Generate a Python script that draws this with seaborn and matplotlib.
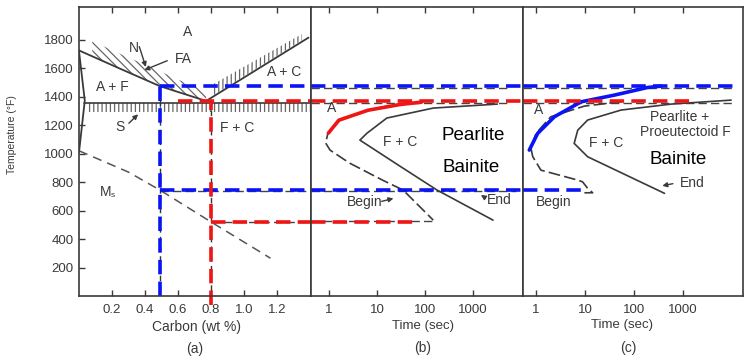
import numpy as np
import pandas as pd
import matplotlib
matplotlib.use("Agg")
import matplotlib.pyplot as plt
import seaborn as sns

sns.set_theme(style="white")
plt.rcParams['font.family'] = ['Liberation Sans', 'DejaVu Sans']
plt.rcParams['hatch.linewidth'] = 0.9
plt.rcParams['hatch.color'] = '#555555'

# ---------------- data ----------------
temp_ticks = [200, 400, 600, 800, 1000, 1200, 1400, 1600, 1800]
carbon_ticks = [0.2, 0.4, 0.6, 0.8, 1.0, 1.2]
carbon_tick_labels = ["0.2", "0.4", "0.6", "0.8", "1.0", "1.2"]
time_ticks = [1, 10, 100, 1000]
time_tick_labels = ["1", "10", "100", "1000"]

# (a) Fe-C phase diagram
a3_c = [0.0, 0.25, 0.49, 0.77]
a3_t = [1725, 1596, 1474, 1370]
acm_c = [0.77, 1.39]
acm_t = [1370, 1815]
alpha_c = [0.0, 0.035, 0.0]
alpha_t = [1720, 1372, 1010]
eutectoid_c = [0.03, 1.40]
eutectoid_t = [1357, 1357]
ms_c = [0.0, 0.3, 0.49, 0.8, 1.16]
ms_t = [1020, 870, 744, 520, 265]
hatch_n_c = [0.08, 0.25, 0.45, 0.6, 0.77]
hatch_n_low = [1684, 1596, 1495, 1430, 1372]
hatch_n_high = [1790, 1700, 1600, 1520, 1440]
hatch_ac_c = [0.80, 1.35]
hatch_ac_low = [1400, 1795]
hatch_ac_high = [1480, 1840]
hatch_s_c = [0.05, 1.40]
hatch_s_low = [1292, 1292]
hatch_s_high = [1355, 1355]

# (b) TTT, eutectoid steel
b_begin_s = [80, 20, 6.5, 1.7, 0.95, 0.85, 1.05, 2.7, 13, 35, 148]
b_begin_t = [1362, 1340, 1305, 1235, 1144, 1075, 1025, 933, 814, 744, 533]
b_red_s = [0.97, 1.6, 6.5, 30, 85]
b_red_t = [1144, 1235, 1305, 1345, 1362]
b_end_s = [3200, 148, 16, 6.2, 4.4, 30, 178, 2600]
b_end_t = [1348, 1320, 1250, 1144, 1095, 912, 744, 533]

# (c) TTT, hypoeutectoid steel
c_begin_s = [54, 9.7, 2.0, 1.0, 0.79, 0.86, 1.26, 7.1, 8.9, 11.3, 14.3, 9.7]
c_begin_t = [1364, 1334, 1259, 1142, 1037, 978, 884, 814, 802, 756, 725, 725]
c_blue_s = [0.73, 1.08, 2.37, 8.3, 39.5, 190, 355]
c_blue_t = [1025, 1142, 1259, 1364, 1411, 1465, 1474]
c_end_s = [9500, 570, 54, 11.3, 7.1, 6.0, 11.3, 417]
c_end_t = [1376, 1348, 1306, 1236, 1165, 1072, 978, 721]

# reference (construction) lines
blue_hi_T = 1474
blue_lo_T = 744
red_hi_T = 1368
red_lo_T = 520
blue_c = 0.49
red_c = 0.80
red_hi_start_c = 0.60
red_lo_end_s = 70
red_hi_end_s = 1850
blue_lo_end_s = 9.5
blue_hi_end_s = 13000

BLUE = '#0a14f5'
RED = '#f01414'
INK = '#3a3a3a'

# ---------------- figure ----------------
fig = plt.figure(figsize=(7.45, 3.6), dpi=100)
H = 360.0
W = 745.0
bot = 1 - 296 / H
hgt = 289 / H
ax_a = fig.add_axes([79 / W, bot, 232 / W, hgt])
ax_b = fig.add_axes([311 / W, bot, 212 / W, hgt])
ax_c = fig.add_axes([523 / W, bot, 220 / W, hgt])

for ax in (ax_a, ax_b, ax_c):
    ax.set_ylim(0, 2030)
    ax.set_facecolor('white')
    for s in ax.spines.values():
        s.set_color(INK)
        s.set_linewidth(1.2)
    ax.tick_params(direction='in', length=4, width=1, color=INK,
                   labelsize=9.5, labelcolor=INK)
    ax.grid(False)

ax_a.set_xlim(0, 1.405)
ax_b.set_xscale('log')
ax_b.set_xlim(10 ** -0.375, 10 ** 4.04)
ax_c.set_xscale('log')
ax_c.set_xlim(10 ** -0.265, 10 ** 4.22)

# ticks
ax_a.set_yticks(temp_ticks)
ax_a.set_xticks(carbon_ticks)
ax_a.set_xticklabels(carbon_tick_labels)
ax_a.tick_params(axis='x', top=True, bottom=True, pad=6)
ax_a.tick_params(axis='y', left=True, pad=4)
for ax in (ax_b, ax_c):
    ax.set_yticks([])
    ax.set_xticks(time_ticks)
    ax.set_xticklabels(time_tick_labels)
    ax.xaxis.set_minor_locator(matplotlib.ticker.NullLocator())
    ax.tick_params(axis='x', top=True, bottom=True, pad=6)

# ---------- panel (a) ----------
ax_a.fill_between(hatch_n_c, hatch_n_low, hatch_n_high, facecolor='none',
                  edgecolor='#666666', hatch='\\\\\\\\', linewidth=0)
ax_a.fill_between(hatch_ac_c, hatch_ac_low, hatch_ac_high, facecolor='none',
                  edgecolor='#666666', hatch='||||', linewidth=0)
ax_a.fill_between(hatch_s_c, hatch_s_low, hatch_s_high, facecolor='none',
                  edgecolor='#666666', hatch='||||', linewidth=0)

sns.lineplot(x=a3_c, y=a3_t, ax=ax_a, sort=False, estimator=None, color=INK, lw=1.3)
sns.lineplot(x=acm_c, y=acm_t, ax=ax_a, sort=False, estimator=None, color=INK, lw=1.3)
sns.lineplot(x=alpha_c, y=alpha_t, ax=ax_a, sort=False, estimator=None, color=INK, lw=1.3)
sns.lineplot(x=eutectoid_c, y=eutectoid_t, ax=ax_a, sort=False, estimator=None, color=INK, lw=1.2)
ms = sns.lineplot(x=ms_c, y=ms_t, ax=ax_a, sort=False, estimator=None, color='#555555', lw=1.1)
ax_a.lines[-1].set_dashes((6, 4))

# original black dashed construction lines (a)
ax_a.vlines([blue_c, red_c], 0, [blue_hi_T, red_hi_T], colors='#333333', lw=1.0,
            linestyles=(3, (4, 3)))
ax_a.hlines([blue_lo_T - 8, red_lo_T], [blue_c, red_c], 1.405, colors='#444444',
            lw=1.0, linestyles=(0, (6, 3)))

# coloured construction lines (a)
ax_a.hlines(blue_hi_T, blue_c, 1.405, colors=BLUE, lw=2.6, linestyles=(0, (4, 2)))
ax_a.hlines(blue_lo_T, blue_c, 1.405, colors=BLUE, lw=2.6, linestyles=(0, (4, 2)))
ax_a.vlines(blue_c, 0, blue_hi_T, colors=BLUE, lw=2.6, linestyles=(0, (4, 2)))
ax_a.hlines(red_hi_T, red_hi_start_c, 1.405, colors=RED, lw=2.6, linestyles=(0, (4, 2)))
ax_a.hlines(red_lo_T, red_c, 1.405, colors=RED, lw=2.6, linestyles=(0, (4, 2)))
ax_a.vlines(red_c, -60, red_hi_T, colors=RED, lw=2.6, linestyles=(0, (4, 2)),
            clip_on=False)

lab = dict(color=INK, fontsize=10, ha='center', va='center')
ax_a.text(0.66, 1853, "A", **lab)
ax_a.text(0.33, 1745, "N", **lab)
ax_a.text(0.63, 1668, "FA", **lab)
ax_a.text(0.20, 1467, "A + F", **lab)
ax_a.text(1.24, 1573, "A + C", **lab)
ax_a.text(0.25, 1187, "S", **lab)
ax_a.text(0.96, 1180, "F + C", **lab)
ax_a.text(0.16, 730, "M", **lab)
ax_a.text(0.205, 705, "s", color=INK, fontsize=6, ha='center', va='center')
arr = dict(arrowstyle='-|>', color=INK, lw=1.0, mutation_scale=7)
ax_a.annotate("", xy=(0.41, 1590), xytext=(0.36, 1770), arrowprops=arr)
ax_a.annotate("", xy=(0.38, 1580), xytext=(0.55, 1660), arrowprops=arr)
ax_a.annotate("", xy=(0.37, 1290), xytext=(0.29, 1200), arrowprops=arr)

# ---------- panel (b) ----------
ax_b.hlines([1355, blue_hi_T - 14], ax_b.get_xlim()[0], 6000, colors='#444444', lw=1.0,
            linestyles=(0, (6, 3)))
ax_b.hlines([blue_lo_T - 6, red_lo_T + 6], ax_b.get_xlim()[0], [8000, 148],
            colors='#444444', lw=1.0, linestyles=(0, (6, 3)))
sns.lineplot(x=b_begin_s, y=b_begin_t, ax=ax_b, sort=False, estimator=None, color=INK, lw=1.2)
ax_b.lines[-1].set_dashes((7, 2.5))
sns.lineplot(x=b_end_s, y=b_end_t, ax=ax_b, sort=False, estimator=None, color=INK, lw=1.2)
sns.lineplot(x=b_red_s, y=b_red_t, ax=ax_b, sort=False, estimator=None, color=RED, lw=2.6)

x0b = ax_b.get_xlim()[0]
ax_b.hlines(blue_hi_T, x0b, ax_b.get_xlim()[1], colors=BLUE, lw=2.6, linestyles=(0, (4, 2)))
ax_b.hlines(blue_lo_T, x0b, ax_b.get_xlim()[1], colors=BLUE, lw=2.6, linestyles=(0, (4, 2)))
ax_b.hlines(red_hi_T, x0b, ax_b.get_xlim()[1], colors=RED, lw=2.6, linestyles=(0, (4, 2)))
ax_b.hlines(red_lo_T, x0b, red_lo_end_s, colors=RED, lw=2.6, linestyles=(0, (4, 2)))

ax_b.text(1.15, 1318, "A", **lab)
ax_b.text(30, 1081, "F + C", **lab)
ax_b.text(5.5, 660, "Begin", **lab)
ax_b.text(3500, 674, "End", **lab)
ax_b.annotate("", xy=(25, 690), xytext=(11, 660), arrowprops=arr)
ax_b.annotate("", xy=(1300, 720), xytext=(2000, 680), arrowprops=arr)
big = dict(color='black', fontsize=13.5, ha='center', va='center')
ax_b.text(1000, 1130, "Pearlite", **big)
ax_b.text(900, 905, "Bainite", **big)

# ---------- panel (c) ----------
x0c = ax_c.get_xlim()[0]
ax_c.hlines([1358, blue_hi_T - 12], x0c, 10000, colors='#444444', lw=1.0,
            linestyles=(0, (6, 3)))
sns.lineplot(x=c_begin_s, y=c_begin_t, ax=ax_c, sort=False, estimator=None, color=INK, lw=1.2)
ax_c.lines[-1].set_dashes((7, 2.5))
sns.lineplot(x=c_end_s, y=c_end_t, ax=ax_c, sort=False, estimator=None, color=INK, lw=1.2)
sns.lineplot(x=c_blue_s, y=c_blue_t, ax=ax_c, sort=False, estimator=None, color=BLUE, lw=2.6)

ax_c.hlines(blue_hi_T, x0c, blue_hi_end_s, colors=BLUE, lw=2.6, linestyles=(0, (4, 2)))
ax_c.hlines(blue_lo_T, x0c, blue_lo_end_s, colors=BLUE, lw=2.6, linestyles=(0, (4, 2)))
ax_c.hlines(red_hi_T, x0c, red_hi_end_s, colors=RED, lw=2.6, linestyles=(0, (4, 2)))

ax_c.text(1.15, 1305, "A", **lab)
ax_c.text(27, 1074, "F + C", **lab)
ax_c.text(2.3, 660, "Begin", **lab)
ax_c.text(1500, 793, "End", **lab)
ax_c.annotate("", xy=(330, 770), xytext=(700, 793), arrowprops=arr)
ax_c.text(850, 1257, "Pearlite +", **lab)
ax_c.text(1100, 1150, "Proeutectoid F", **lab)
ax_c.text(800, 962, "Bainite", **big)

# ---------- outer labels ----------
fig.text(12 / W, 1 - 135 / H, "Temperature (°F)", rotation=90, ha='center',
         va='center', fontsize=7.5, color=INK)
fig.text(197 / W, 1 - 327 / H, "Carbon (wt %)", ha='center', va='center',
         fontsize=10, color=INK)
fig.text(195 / W, 1 - 349 / H, "(a)", ha='center', va='center', fontsize=10, color=INK)
fig.text(423 / W, 1 - 326 / H, "Time (sec)", ha='center', va='center',
         fontsize=9.5, color=INK)
fig.text(423 / W, 1 - 348 / H, "(b)", ha='center', va='center', fontsize=10, color=INK)
fig.text(622 / W, 1 - 325 / H, "Time (sec)", ha='center', va='center',
         fontsize=9.5, color=INK)
fig.text(628 / W, 1 - 348 / H, "(c)", ha='center', va='center', fontsize=10, color=INK)

fig.savefig("out.png", dpi=100, facecolor='white')
